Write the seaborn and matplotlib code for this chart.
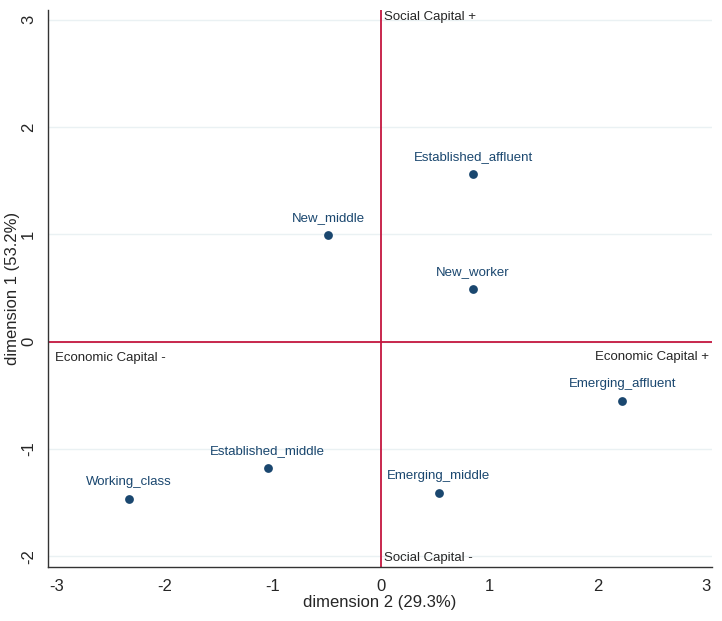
import matplotlib
matplotlib.use("Agg")
import matplotlib.pyplot as plt
import seaborn as sns
import pandas as pd

# categorias e coordenadas (dimensão 2 no eixo x, dimensão 1 no eixo y)
grupos = ['Established_affluent', 'New_middle', 'New_worker', 'Emerging_affluent',
          'Established_middle', 'Working_class', 'Emerging_middle']
dim2 = [0.85, -0.49, 0.85, 2.23, -1.05, -2.33, 0.53]
dim1 = [1.56, 0.99, 0.49, -0.55, -1.18, -1.47, -1.41]

x_ticks = [-3, -2, -1, 0, 1, 2, 3]
y_ticks = [-2, -1, 0, 1, 2, 3]

df = pd.DataFrame({'grupo': grupos, 'dim2': dim2, 'dim1': dim1})

sns.set_style('white')
plt.rcParams['font.family'] = ['Liberation Sans', 'DejaVu Sans']

navy = '#1a476f'
linha = '#c4163f'

fig = plt.figure(figsize=(7.22, 6.21), dpi=100)
ax = fig.add_axes([0.0665, 0.087, 0.92, 0.897])

# grade clara estilo Stata
for yv in y_ticks:
    ax.axhline(yv, color='#eaf1f3', lw=1, zorder=0)

ax.axhline(0, color=linha, lw=1.3, zorder=1)
ax.axvline(0, color=linha, lw=1.3, zorder=1)

sns.scatterplot(data=df, x='dim2', y='dim1', color=navy, s=40, edgecolor=navy,
                linewidth=0, ax=ax, zorder=3)

for _, r in df.iterrows():
    ax.annotate(r['grupo'], (r['dim2'], r['dim1']), xytext=(0, 8),
                textcoords='offset points', ha='center', va='bottom',
                fontsize=9.5, color=navy)

# rótulos dos quadrantes
ax.text(0.03, 3.02, 'Social Capital +', ha='left', va='center', fontsize=9.5)
ax.text(0.03, -2.02, 'Social Capital -', ha='left', va='center', fontsize=9.5)
ax.text(-3.02, -0.15, 'Economic Capital -', ha='left', va='center', fontsize=9.5)
ax.text(3.03, -0.14, 'Economic Capital +', ha='right', va='center', fontsize=9.5)

ax.set_xlim(-3.08, 3.06)
ax.set_ylim(-2.1, 3.09)
ax.set_xticks(x_ticks)
ax.set_yticks(y_ticks)
ax.set_xticklabels([str(v) for v in x_ticks], fontsize=12)
ax.set_yticklabels([str(v) for v in y_ticks], fontsize=12, rotation=90, va='center')
ax.tick_params(axis='both', direction='out', length=5, width=1, color='#333333')
ax.set_xlabel('dimension 2 (29.3%)', fontsize=12, labelpad=1)
ax.set_ylabel('dimension 1 (53.2%)', fontsize=12, labelpad=1)

sns.despine(ax=ax)
for s in ['left', 'bottom']:
    ax.spines[s].set_color('#333333')
    ax.spines[s].set_linewidth(1)

fig.savefig('out.png', dpi=100)
